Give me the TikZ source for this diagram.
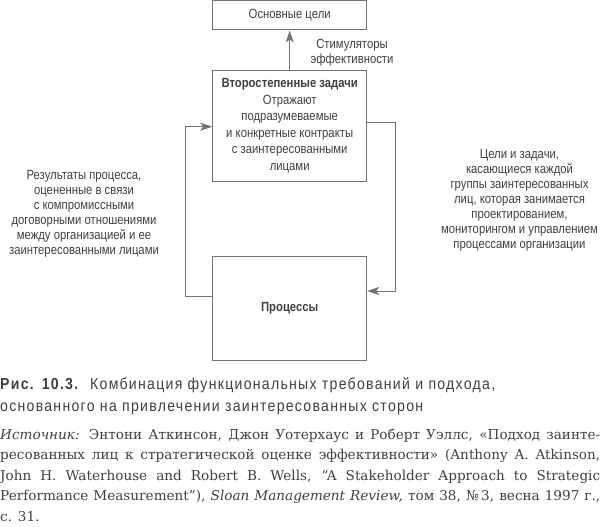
\documentclass[tikz,border=0pt]{standalone}
\usepackage{fontspec}
\usepackage{tikz}
\usetikzlibrary{arrows.meta}

\newfontfamily\diagfont[FakeStretch=0.85]{Liberation Sans}
\newfontfamily\capfont[FakeStretch=0.88,LetterSpace=8]{Liberation Sans}
\newfontfamily\srcfont{DejaVu Serif}

\definecolor{linegray}{gray}{0.45}
\definecolor{textgray}{gray}{0.25}

\tikzset{
    box/.style={draw=linegray, line width=1pt, minimum width=154pt, inner sep=0pt, align=center, text=textgray, font={\diagfont\fontsize{13.3}{16.5}\selectfont}},
    note/.style={align=center, inner sep=0pt, text=textgray, font={\diagfont\fontsize{13.3}{15}\selectfont}},
    link/.style={draw=linegray, line width=1pt},
    arrowed/.style={-{Stealth[length=12pt, width=8pt, inset=3pt]}}
}

\begin{document}
\begin{tikzpicture}[x=1pt, y=-1pt]
        \useasboundingbox (0,0) rectangle (600,527);

        % Boxes
        \node[box, minimum height=29pt] (1) at (289.7, 15.5) {Основные цели};
        \node[box, minimum height=111.7pt] (2) at (289.7, 125.9) {\textbf{Второстепенные задачи}\\Отражают\\подразумеваемые\\и конкретные контракты\\с заинтересованными\\лицами};
        \node[box, minimum height=104pt] (3) at (289.7, 308) {\textbf{Процессы}};

        % Labels
        \node[note] (4) at (352, 52.5) {Стимуляторы\\эффективности};
        \node[note] (5) at (84, 214.2) {Результаты процесса,\\оцененные в связи\\с компромиссными\\договорными отношениями\\между организацией и ее\\заинтересованными лицами};
        \node[note] (6) at (519.5, 200.8) {Цели и задачи,\\касающиеся каждой\\группы заинтересованных\\лиц, которая занимается\\проектированием,\\мониторингом и управлением\\процессами организации};

        \coordinate (7) at (185, 296);
        \coordinate (8) at (185, 126.7);
        \coordinate (9) at (395, 122.3);
        \coordinate (10) at (395, 291);

        \draw[link, arrowed] (2.north) -- (1.south);
        \draw[link, arrowed] (3.west |- 7) -- (7) -- (8) -- (2.west |- 8);
        \draw[link, arrowed] (2.east |- 9) -- (9) -- (10) -- (3.east |- 10);

        % Caption and source
        \node[anchor=base west, inner sep=0pt, text width=600pt, align=left, text=textgray, font={\capfont\fontsize{16}{22}\selectfont}] (11) at (0, 389) {\textbf{Рис. 10.3.}\ \ Комбинация функциональных требований и подхода,\\основанного на привлечении заинтересованных сторон};
        \node[anchor=base west, inner sep=0pt, text width=600pt, align=justify, text=textgray, font={\srcfont\fontsize{13.6}{20.5}\selectfont\hyphenpenalty=10000}] (12) at (0, 439) {\textit{Источник:} Энтони Аткинсон, Джон Уотерхаус и Роберт Уэллс, «Подход заинте-\linebreak ресованных лиц к стратегической оценке эффективности» (Anthony A. Atkinson,\linebreak John H. Waterhouse and Robert B. Wells, “A Stakeholder Approach to Strategic\linebreak Performance Measurement”), \textit{Sloan Management Review,} том 38, №\,3, весна 1997 г.,\linebreak с. 31.};
\end{tikzpicture}
\end{document}
